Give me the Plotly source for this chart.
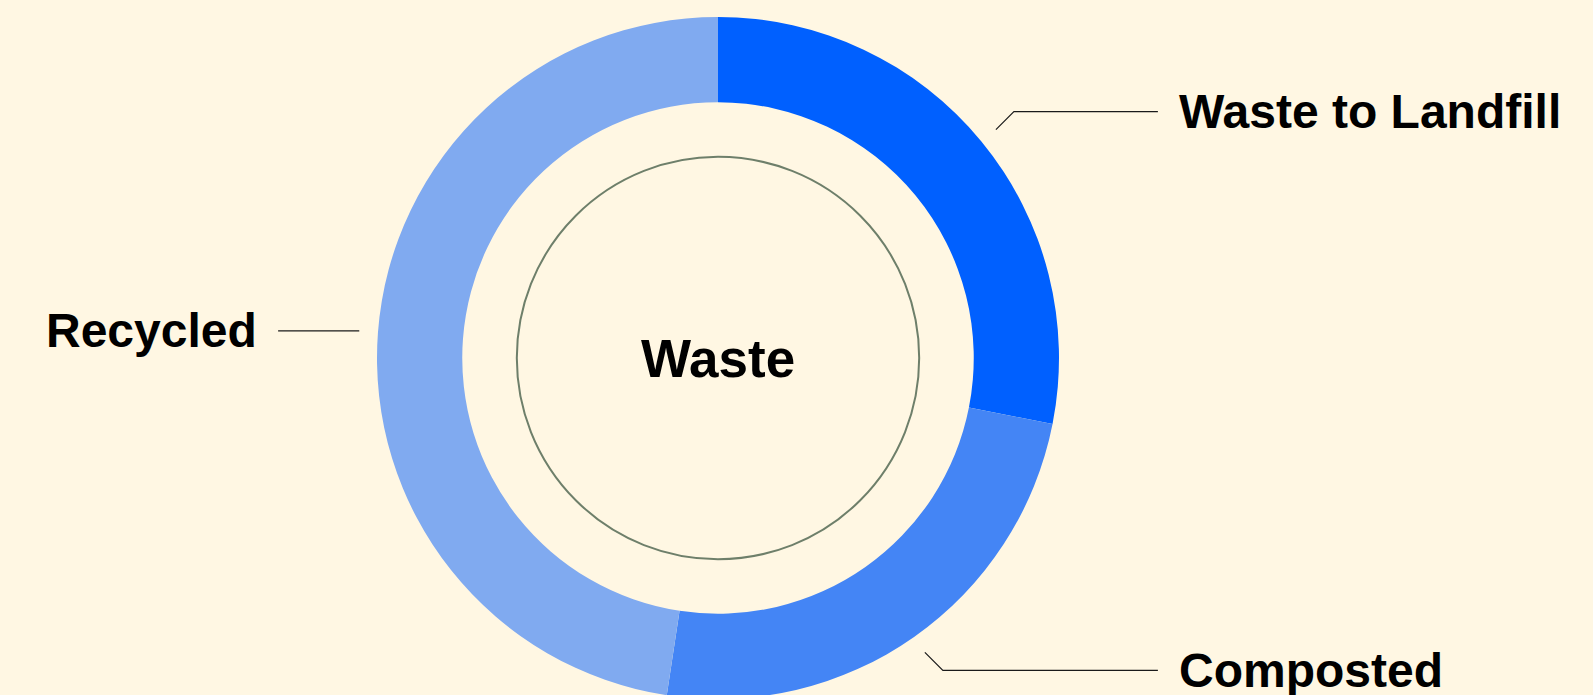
"""
Donut chart: destino de los residuos
"""
import math
import plotly.graph_objects as go

W, H = 1593, 720

labels = ["Waste to Landfill", "Composted", "Recycled"]
values = [28.1, 24.3, 47.6]
colors = ["#0060FF", "#4485F5", "#80AAF0"]
center_label = "Waste"

BG = "#FFF7E3"
FONT = "Liberation Sans"

# geometría del donut (píxeles)
cx, cy, r = 718, 358, 341
hole = 0.75
ring_r = 0.59 * r


def px(x, y):
    return x / W, 1 - y / H


fig = go.Figure(go.Pie(
    labels=labels,
    values=values,
    marker=dict(colors=colors, line=dict(width=0)),
    hole=hole,
    sort=False,
    direction="clockwise",
    rotation=0,
    textinfo="none",
    hoverinfo="label+percent",
    domain=dict(x=[(cx - r) / W, (cx + r) / W], y=[1 - (cy + r) / H, 1 - (cy - r) / H]),
))

shapes = []
annotations = []

# círculo interior
x0, y0 = px(cx - ring_r, cy - ring_r)
x1, y1 = px(cx + ring_r, cy + ring_r)
shapes.append(dict(type="circle", xref="paper", yref="paper", x0=x0, y0=y1, x1=x1, y1=y0,
                   line=dict(color="#6E7F6A", width=2)))

# líneas guía y etiquetas
total = sum(values)
cum = 0
for label, val in zip(labels, values):
    mid = (cum + val / 2) / total * 2 * math.pi
    cum += val
    sx, sy = math.sin(mid), -math.cos(mid)
    side = 1 if sx >= 0 else -1
    p1 = (cx + 1.055 * r * sx, cy + 1.055 * r * sy)
    if abs(sy) > 0.3:
        p2 = (p1[0] + side * 18, p1[1] + math.copysign(18, sy))
    else:
        p2 = p1
    p3 = (cx + side * 1.29 * r, p2[1])
    path = "M {} {} L {} {} L {} {}".format(*px(*p1), *px(*p2), *px(*p3))
    shapes.append(dict(type="path", xref="paper", yref="paper", path=path,
                       line=dict(color="#1A1A1A", width=1.2)))
    lx, ly = px(cx + side * 1.345 * r, p2[1])
    annotations.append(dict(
        x=lx, y=ly, xref="paper", yref="paper", text=label, showarrow=False,
        xanchor="left" if side > 0 else "right", yanchor="middle",
        font=dict(family=FONT, size=48, color="#000000", weight="bold"),
    ))

tx, ty = px(cx, cy)
annotations.append(dict(
    x=tx, y=ty, xref="paper", yref="paper", text=center_label, showarrow=False,
    xanchor="center", yanchor="middle",
    font=dict(family=FONT, size=53, color="#000000", weight="bold"),
))

fig.update_layout(
    width=W,
    height=H,
    margin=dict(l=0, r=0, t=0, b=0),
    paper_bgcolor=BG,
    plot_bgcolor=BG,
    showlegend=False,
    shapes=shapes,
    annotations=annotations,
)

fig.write_html(
    "out.html",
    config={"displayModeBar": False},
    post_script="document.body.style.margin='0';document.body.style.overflow='hidden';"
                "document.body.style.background='" + BG + "';",
)
